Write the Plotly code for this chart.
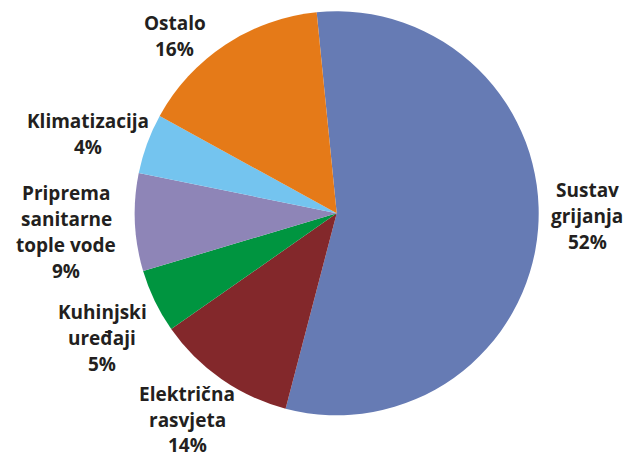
import plotly.graph_objects as go

categories = ["Sustav grijanja", "Električna rasvjeta", "Kuhinjski uređaji",
              "Priprema sanitarne tople vode", "Klimatizacija", "Ostalo"]
label_lines = [["Sustav", "grijanja"], ["Električna", "rasvjeta"], ["Kuhinjski", "uređaji"],
               ["Priprema", "sanitarne", "tople vode"], ["Klimatizacija"], ["Ostalo"]]
slice_values = [55.6, 11.2, 5.1, 7.8, 4.8, 15.4]
label_pct = ["52%", "14%", "5%", "9%", "4%", "16%"]
colors = ["#667BB4", "#83282B", "#009540", "#8E85B7", "#74C4EF", "#E57A18"]

W, H = 629, 457
cx, cy, r = 336.7, 243.7, 202

# label block positions (pixel: center x, first line center y from top)
label_pos = [(587, 190), (187, 394), (102, 312), (66, 193), (88, 121), (175, 23)]
line_gaps = [26, 25.5, 26, 26, 26, 26]

fig = go.Figure(go.Pie(
    labels=categories,
    values=slice_values,
    textinfo="none",
    sort=False,
    direction="clockwise",
    rotation=-5.7,
    marker=dict(colors=colors, line=dict(width=0)),
    showlegend=False,
    hoverinfo="none",
    domain=dict(x=[(cx - r) / W, (cx + r) / W], y=[(cy - r) / H, (cy + r) / H]),
))

for lines, pct, (lx, ly), gap in zip(label_lines, label_pct, label_pos, line_gaps):
    for i, t in enumerate(lines + [pct]):
        fig.add_annotation(
            x=lx / W, y=1 - (ly + i * gap) / H,
            xref="paper", yref="paper",
            text=t, showarrow=False,
            xanchor="center", yanchor="middle", borderpad=0,
            font=dict(family="Open Sans", size=19, color="#231F20", weight="bold"),
        )

fig.update_layout(
    width=W, height=H,
    margin=dict(l=0, r=0, t=0, b=0),
    paper_bgcolor="white",
    plot_bgcolor="white",
)
fig.write_html("out.html", config={"displayModeBar": False},
               post_script="document.body.style.margin='0';")
